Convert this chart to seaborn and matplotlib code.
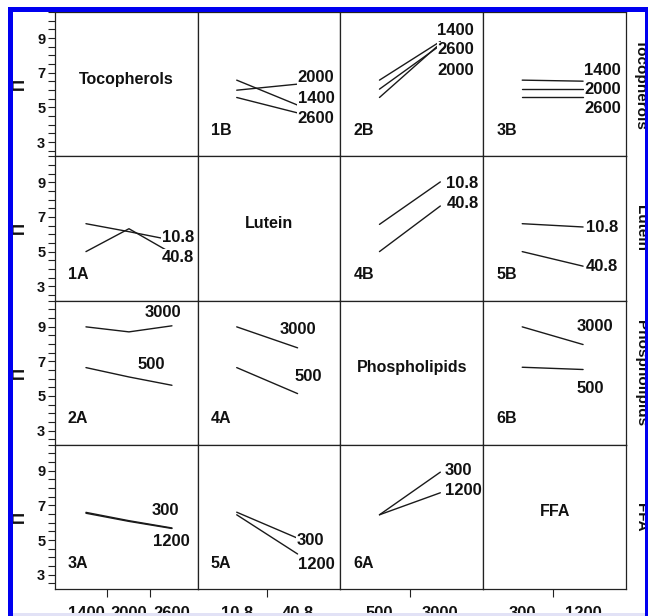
import matplotlib
matplotlib.use("Agg")
import matplotlib.pyplot as plt
from matplotlib.patches import Rectangle
from matplotlib.ticker import MultipleLocator, FixedLocator, NullFormatter
import numpy as np
import pandas as pd
import seaborn as sns

sns.set_style("white")
plt.rcParams["font.family"] = ["Liberation Sans", "DejaVu Sans"]

# Factors and their levels (rows/columns of the interaction matrix)
factors = ["Tocopherols", "Lutein", "Phospholipids", "FFA"]
tocopherol_levels = ["1400", "2000", "2600"]
lutein_levels = ["10.8", "40.8"]
phospholipid_levels = ["500", "3000"]
ffa_levels = ["300", "1200"]
factor_levels = [tocopherol_levels, lutein_levels, phospholipid_levels, ffa_levels]

# Mean responses: each panel maps a row-factor level to its means across column-factor levels
panel_1B = {"1400": [6.57, 5.13], "2000": [5.99, 6.34], "2600": [5.57, 4.68]}
panel_2B = {"1400": [6.57, 8.80], "2000": [6.05, 8.58], "2600": [5.57, 8.68]}
panel_3B = {"1400": [6.57, 6.51], "2000": [6.03, 6.03], "2600": [5.57, 5.57]}
panel_1A = {"10.8": [6.61, 6.15, 5.66], "40.8": [5.00, 6.32, 4.90]}
panel_4B = {"10.8": [6.57, 9.02], "40.8": [5.00, 7.63]}
panel_5B = {"10.8": [6.61, 6.42], "40.8": [5.00, 4.16]}
panel_2A = {"500": [6.63, 6.09, 5.61], "3000": [8.98, 8.69, 9.04]}
panel_4A = {"500": [6.63, 5.13], "3000": [8.98, 7.77]}
panel_6B = {"500": [6.65, 6.52], "3000": [8.98, 7.96]}
panel_3A = {"300": [6.60, 6.12, 5.70], "1200": [6.55, 6.08, 5.67]}
panel_5A = {"300": [6.61, 5.11], "1200": [6.46, 4.20]}
panel_6A = {"300": [6.46, 8.92], "1200": [6.46, 7.73]}

panels = {
    "1B": (0, 1, panel_1B), "2B": (0, 2, panel_2B), "3B": (0, 3, panel_3B),
    "1A": (1, 0, panel_1A), "4B": (1, 2, panel_4B), "5B": (1, 3, panel_5B),
    "2A": (2, 0, panel_2A), "4A": (2, 1, panel_4A), "6B": (2, 3, panel_6B),
    "3A": (3, 0, panel_3A), "5A": (3, 1, panel_5A), "6A": (3, 2, panel_6A),
}

# Where each series label sits (data coordinates of its left/centre)
label_xy = {
    "1B": {"2000": (1.0, 6.72), "1400": (1.0, 5.50), "2600": (1.0, 4.34)},
    "2B": {"1400": (0.95, 9.46), "2600": (0.95, 8.31), "2000": (0.95, 7.15)},
    "3B": {"1400": (1.02, 7.15), "2000": (1.02, 6.05), "2600": (1.02, 4.95)},
    "1A": {"10.8": (1.77, 5.82), "40.8": (1.77, 4.66)},
    "4B": {"10.8": (1.10, 8.94), "40.8": (1.10, 7.79)},
    "5B": {"10.8": (1.05, 6.40), "40.8": (1.05, 4.14)},
    "2A": {"3000": (1.37, 9.81), "500": (1.21, 6.80)},
    "4A": {"3000": (0.70, 8.83), "500": (0.95, 6.11)},
    "6B": {"3000": (0.90, 9.00), "500": (0.90, 5.42)},
    "3A": {"300": (1.53, 6.69), "1200": (1.56, 4.90)},
    "5A": {"300": (0.98, 4.95), "1200": (1.00, 3.62)},
    "6A": {"300": (1.07, 9.00), "1200": (1.07, 7.84)},
}

# Long-form table built from the panel dictionaries
records = []
for name, (r, c, series) in panels.items():
    for level, values in series.items():
        for i, v in enumerate(values):
            records.append({"panel": name, "row": r, "col": c,
                            "x": i, "mean": v, "level": level})
df = pd.DataFrame(records)

W, H = 648, 616
fig, axes = plt.subplots(4, 4, figsize=(W / 100, H / 100), dpi=100)
fig.subplots_adjust(left=55 / W, right=626 / W, top=1 - 12 / H,
                    bottom=1 - 589 / H, wspace=0, hspace=0)

ylim = (2.18, 10.5)
bold = dict(fontweight="bold", color="#111111")

for r in range(4):
    for c in range(4):
        ax = axes[r, c]
        n = len(factor_levels[c])
        if n == 3:
            ax.set_xlim(-0.72, 2.60)
        else:
            ax.set_xlim(-0.64, 1.705)
        ax.set_ylim(*ylim)
        for s in ax.spines.values():
            s.set_color("#222222")
            s.set_linewidth(0.9)
        ax.tick_params(left=False, bottom=False, labelleft=False, labelbottom=False,
                       which="both")

        if r == c:
            ax.text(0.5, 0.535, factors[r], transform=ax.transAxes, ha="center",
                    va="center", fontsize=11.5, **bold)

        if c == 0:
            ax.yaxis.set_major_locator(FixedLocator([3, 5, 7, 9]))
            ax.yaxis.set_minor_locator(MultipleLocator(0.5))
            ax.tick_params(axis="y", which="both", left=True, labelleft=True,
                           direction="out", length=5, width=0.8, color="#222222",
                           pad=2)
            for t in ax.get_yticklabels():
                t.set_fontsize(10.5)
                t.set_fontweight("bold")
                t.set_color("#111111")

        if r == 3:
            pos = np.arange(n)
            mids = (pos[:-1] + pos[1:]) / 2
            ax.set_xticks(mids)
            ax.xaxis.set_major_formatter(NullFormatter())
            ax.set_xticks(pos, factor_levels[c], minor=True)
            ax.tick_params(axis="x", which="major", bottom=True, direction="out",
                           length=6, width=0.8, color="#222222")
            ax.tick_params(axis="x", which="minor", bottom=True, labelbottom=True,
                           length=0, pad=12)
            for t in ax.get_xticklabels(minor=True):
                t.set_fontsize(12)
                t.set_fontweight("bold")
                t.set_color("#111111")

# Interaction lines
for name, (r, c, series) in panels.items():
    ax = axes[r, c]
    sub = df[df["panel"] == name]
    levels = list(series.keys())
    sns.lineplot(data=sub, x="x", y="mean", hue="level", hue_order=levels,
                 palette=["#1a1a1a"] * len(levels), estimator=None, sort=False,
                 legend=False, linewidth=1.0, ax=ax)
    ax.set_xlabel("")
    ax.set_ylabel("")
    for level, (lx, ly) in label_xy[name].items():
        ax.text(lx, ly, level, ha="left", va="center", fontsize=12, zorder=5,
                bbox=dict(facecolor="white", edgecolor="none", pad=0.5), **bold)
    ax.text(0.09, 0.18, name, transform=ax.transAxes, ha="left", va="center",
            fontsize=11.5, **bold)

# Row names on the right-hand side, axis marks on the left
for r in range(4):
    yc = 1 - (12 + (r + 0.5) * (577 / 4)) / H
    fig.text(641 / W, yc, factors[r], rotation=270, ha="center", va="center",
             fontsize=11, **bold)
    fig.text(19.5 / W, yc, "\u03a0", rotation=90, ha="center", va="center",
             fontsize=12, **bold)

# Frame around the figure
frame = dict(transform=fig.transFigure, zorder=10, linewidth=0)
fig.add_artist(Rectangle((8 / W, 0), 5 / W, 1 - 7 / H, color="#0000f0", **frame))
fig.add_artist(Rectangle((8 / W, 1 - 12 / H), 1 - 8 / W, 5 / H, color="#0000f0", **frame))
fig.add_artist(Rectangle((645 / W, 0), 3 / W, 1 - 7 / H, color="#0000f0", **frame))
fig.add_artist(Rectangle((13 / W, 0), 632 / W, 3 / H, color="#e2e2f6", **frame))

fig.savefig("out.png", dpi=100)
